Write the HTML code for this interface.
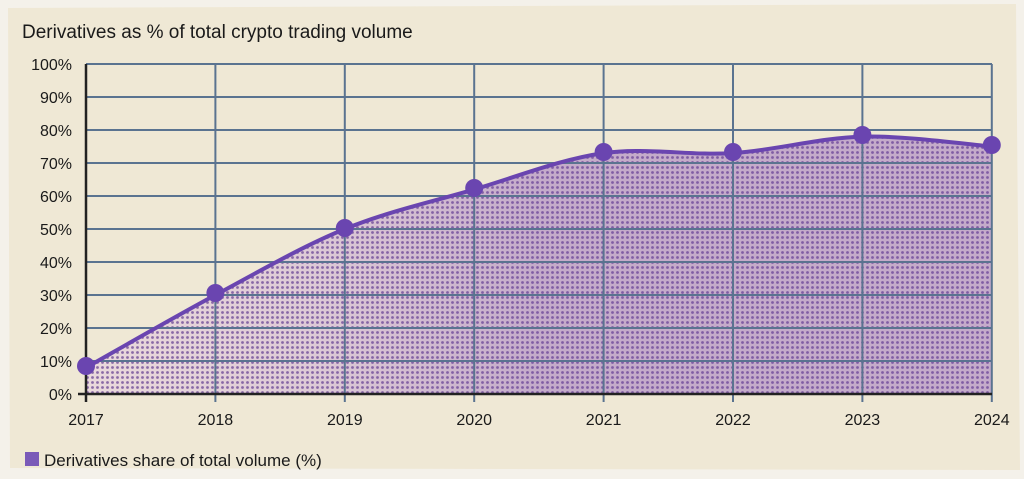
<!DOCTYPE html>
<html><head><style>
body{margin:0;width:1024px;height:474px;background:#f4f1ea;overflow:hidden;font-family:"Liberation Sans",sans-serif}
</style></head><body>
<svg width="1024" height="474" xmlns="http://www.w3.org/2000/svg">
<defs>
<pattern id="dots" width="5" height="5" patternUnits="userSpaceOnUse">
<rect width="5" height="5" fill="#ead9dc"/>
<circle cx="2.5" cy="2.5" r="1.4" fill="#8a6aa6"/>
</pattern>
<linearGradient id="shade" x1="0" x2="1" y1="0" y2="0">
<stop offset="0" stop-color="#6a3fa0" stop-opacity="0"/>
<stop offset="0.25" stop-color="#6a3fa0" stop-opacity="0.1"/>
<stop offset="0.5" stop-color="#6a3fa0" stop-opacity="0.3"/>
<stop offset="1" stop-color="#6a3fa0" stop-opacity="0.3"/>
</linearGradient>
</defs>
<path d="M8,8 L1016,4 L1020,470 L10,468 Z" fill="#efe8d5"/>
<text x="22" y="38" font-size="19" fill="#1a1a1a">Derivatives as % of total crypto trading volume</text>
<path d="M86,394 L86,367.6 C107.6,355.5 172.3,318.1 215.4,295 C258.5,271.9 301.7,246.6 344.8,229 C387.9,211.4 431.1,202.1 474.2,189.4 C517.3,176.7 560.5,159.2 603.6,153.1 C646.7,147.1 689.9,155.9 733,153.1 C776.1,150.3 819.3,137.7 862.4,136.6 C905.5,135.5 970.2,144.85 991.8,146.5 L991.8,394 Z" fill="url(#dots)"/>
<path d="M86,394 L86,367.6 C107.6,355.5 172.3,318.1 215.4,295 C258.5,271.9 301.7,246.6 344.8,229 C387.9,211.4 431.1,202.1 474.2,189.4 C517.3,176.7 560.5,159.2 603.6,153.1 C646.7,147.1 689.9,155.9 733,153.1 C776.1,150.3 819.3,137.7 862.4,136.6 C905.5,135.5 970.2,144.85 991.8,146.5 L991.8,394 Z" fill="url(#shade)"/>
<g stroke="#5a7390" stroke-width="2">
<line x1="86" x2="992" y1="64" y2="64"/><line x1="86" x2="992" y1="97" y2="97"/><line x1="86" x2="992" y1="130" y2="130"/><line x1="86" x2="992" y1="163" y2="163"/><line x1="86" x2="992" y1="196" y2="196"/><line x1="86" x2="992" y1="229" y2="229"/><line x1="86" x2="992" y1="262" y2="262"/><line x1="86" x2="992" y1="295" y2="295"/><line x1="86" x2="992" y1="328" y2="328"/><line x1="86" x2="992" y1="361" y2="361"/>
<line x1="215.4" x2="215.4" y1="64" y2="402"/><line x1="344.8" x2="344.8" y1="64" y2="402"/><line x1="474.2" x2="474.2" y1="64" y2="402"/><line x1="603.6" x2="603.6" y1="64" y2="402"/><line x1="733" x2="733" y1="64" y2="402"/><line x1="862.4" x2="862.4" y1="64" y2="402"/><line x1="991.8" x2="991.8" y1="64" y2="402"/>
</g>
<line x1="86" x2="86" y1="64" y2="402" stroke="#222" stroke-width="2.5"/>
<line x1="78" x2="992" y1="394" y2="394" stroke="#222" stroke-width="2.5"/>
<path d="M86,367.6 C107.6,355.5 172.3,318.1 215.4,295 C258.5,271.9 301.7,246.6 344.8,229 C387.9,211.4 431.1,202.1 474.2,189.4 C517.3,176.7 560.5,159.2 603.6,153.1 C646.7,147.1 689.9,155.9 733,153.1 C776.1,150.3 819.3,137.7 862.4,136.6 C905.5,135.5 970.2,144.85 991.8,146.5" fill="none" stroke="#6a45b0" stroke-width="4"/>
<g fill="#6a45b0">
<circle cx="86" cy="366" r="9"/><circle cx="215.4" cy="293" r="9"/><circle cx="344.8" cy="228" r="9"/><circle cx="474.2" cy="188" r="9"/><circle cx="603.6" cy="152" r="9"/><circle cx="733" cy="152" r="9"/><circle cx="862.4" cy="135" r="9"/><circle cx="991.8" cy="145" r="9"/>
</g>
<g font-size="16" fill="#1a1a1a" text-anchor="end">
<text x="72" y="70">100%</text><text x="72" y="103">90%</text><text x="72" y="136">80%</text><text x="72" y="169">70%</text><text x="72" y="202">60%</text><text x="72" y="235">50%</text><text x="72" y="268">40%</text><text x="72" y="301">30%</text><text x="72" y="334">20%</text><text x="72" y="367">10%</text><text x="72" y="400">0%</text>
</g>
<g font-size="16" fill="#1a1a1a" text-anchor="middle">
<text x="86" y="425">2017</text><text x="215.4" y="425">2018</text><text x="344.8" y="425">2019</text><text x="474.2" y="425">2020</text><text x="603.6" y="425">2021</text><text x="733" y="425">2022</text><text x="862.4" y="425">2023</text><text x="991.8" y="425">2024</text>
</g>
<rect x="25" y="452" width="14" height="14" fill="#7a5ab8"/>
<text x="44" y="466" font-size="17" fill="#1a1a1a">Derivatives share of total volume (%)</text>
</svg>
</body></html>
